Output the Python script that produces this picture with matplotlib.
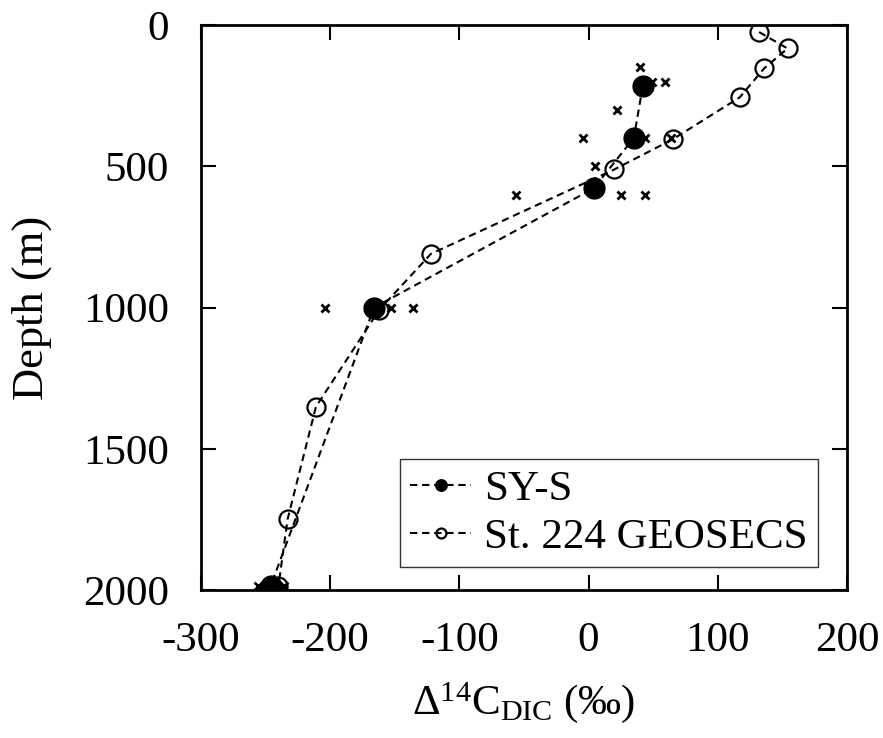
import matplotlib
matplotlib.use('Agg')
import matplotlib.pyplot as plt

plt.rcParams['font.family'] = ['Liberation Serif', 'DejaVu Serif']
plt.rcParams['mathtext.fontset'] = 'custom'
plt.rcParams['mathtext.rm'] = 'Liberation Serif'
plt.rcParams['mathtext.it'] = 'Liberation Serif:italic'
plt.rcParams['axes.unicode_minus'] = False

# SY-S station mean profile
sy_d14c = [42, 35, 4, -166, -246]
sy_depth = [215, 400, 578, 1000, 1985]

# individual SY-S samples
samp_d14c = [40, 49, 59, 22, -4, 44, 64, 5, -56, 25, 44,
             -204, -171, -153, -136, -256, -236]
samp_depth = [150, 200, 200, 300, 400, 400, 400, 500, 600, 600, 600,
              1000, 1000, 1000, 1000, 1985, 1985]

# GEOSECS St. 224 profile
geo_d14c = [132, 154, 136, 117, 65, 20, -122, -162, -211, -233, -240]
geo_depth = [25, 83, 153, 256, 405, 511, 810, 1008, 1351, 1750, 1985]

fig = plt.figure(figsize=(8.83, 7.38), dpi=100)
ax = fig.add_axes([0.2276, 0.2005, 0.7316, 0.7656])

dash = (0, (3.5, 2.3))
ax.plot(samp_d14c, samp_depth, 'x', color='black', ms=6, mew=2, zorder=2)
ax.plot(geo_d14c, geo_depth, color='black', ls=dash, lw=1.5, marker='o',
        ms=13, mfc='none', mec='black', mew=1.6, label='St. 224 GEOSECS', zorder=3)
ax.plot(sy_d14c, sy_depth, color='black', ls=dash, lw=1.5, marker='o',
        ms=15, mfc='black', mec='black', label='SY-S', zorder=4)

ax.set_xlim(-300, 200)
ax.set_ylim(2000, 0)
ax.set_xticks([-300, -200, -100, 0, 100, 200])
ax.set_yticks([0, 500, 1000, 1500, 2000])
ax.tick_params(direction='in', length=11, width=1.5, top=True, right=True,
               labelsize=31, pad=23)
for s in ax.spines.values():
    s.set_linewidth(2)

ax.set_xlabel(r'$\Delta^{14}$C$_{\mathrm{DIC}}$ (‰)', fontsize=31, labelpad=14)
ax.set_ylabel('Depth (m)', fontsize=32, labelpad=22)

h, l = ax.get_legend_handles_labels()
leg = ax.legend(h[::-1], l[::-1], loc='lower right', bbox_to_anchor=(0.955, 0.04),
                fontsize=31, markerscale=0.55, handlelength=1.4, handletextpad=0.3,
                borderpad=0.25, labelspacing=0.2, fancybox=False, frameon=True,
                borderaxespad=0)
leg.get_frame().set_edgecolor('black')
leg.get_frame().set_linewidth(1)

fig.savefig('out.png', dpi=100)
